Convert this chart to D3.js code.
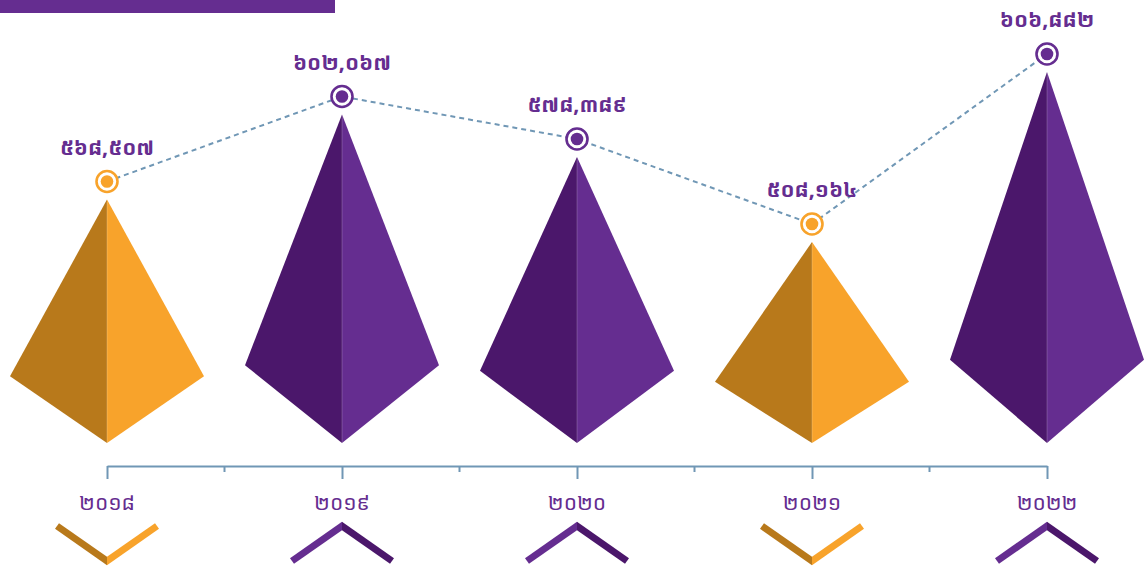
<!DOCTYPE html>
<html>
<head>
<meta charset="utf-8">
<script src="https://cdn.jsdelivr.net/npm/d3@7"></script>
<style>
  html, body { margin: 0; padding: 0; background: #ffffff; }
  svg { display: block; }
</style>
</head>
<body>
<svg id="chart" width="1147" height="567"></svg>
<script>
// ---- data ----
const years = ["2018", "2019", "2020", "2021", "2022"];
const yearLabels = ["២០១៨", "២០១៩", "២០២០", "២០២១", "២០២២"];
const values = [568507, 602067, 578389, 508164, 606882];
const valueLabels = ["៥៦៨,៥០៧", "៦០២,០៦៧", "៥៧៨,៣៨៩", "៥០៨,១៦៤", "៦០៦,៨៨២"];
const groups = ["gold", "purple", "purple", "gold", "purple"];

// ---- styles ----
const palette = {
  gold:   { dark: "#B8791B", light: "#F8A32B", marker: "#F8A32B" },
  purple: { dark: "#4B176B", light: "#652D90", marker: "#652D90" }
};
const textColor = "#652D90";
const axisColor = "#7097B5";
const fontFam = "'Noto Sans Khmer', 'Khmer OS', 'Khmer OS System', 'Noto Serif Khmer', 'Noto Sans', 'DejaVu Sans', sans-serif";

const svg = d3.select("#chart");

// top banner (cut title bar)
svg.append("rect").attr("x", 0).attr("y", 0).attr("width", 335).attr("height", 13).attr("fill", "#652D90");

const data = years.map((y, i) => ({
  year: y, yearLabel: yearLabels[i], value: values[i], label: valueLabels[i], group: groups[i]
}));

// scales
const x = d3.scalePoint().domain(years).range([107, 1047]);
const sorted = values.slice().sort((a, b) => a - b);
const y = d3.scalePoint().domain(sorted).range([224, 54]);
const baseY = 443;
const halfW = 97;

// pyramids
const pyr = svg.append("g");
data.forEach(d => {
  const cx = x(d.year);
  const apex = y(d.value) + 18;
  const h = baseY - apex;
  const shoulder = baseY - (35 + 0.13 * h);
  const c = palette[d.group];
  pyr.append("path")
    .attr("d", d3.line()([[cx, apex], [cx - halfW, shoulder], [cx, baseY]]) + "Z")
    .attr("fill", c.dark);
  pyr.append("path")
    .attr("d", d3.line()([[cx, apex], [cx + halfW, shoulder], [cx, baseY]]) + "Z")
    .attr("fill", c.light);
  pyr.append("line")
    .attr("x1", cx).attr("x2", cx).attr("y1", apex + 2).attr("y2", baseY)
    .attr("stroke", "#ffffff").attr("stroke-opacity", 0.25).attr("stroke-width", 0.8);
});

// dashed connecting line
svg.append("path")
  .datum(data)
  .attr("d", d3.line().x(d => x(d.year)).y(d => y(d.value)))
  .attr("fill", "none")
  .attr("stroke", axisColor)
  .attr("stroke-width", 2)
  .attr("stroke-dasharray", "5,4");

// markers
const mk = svg.append("g");
data.forEach(d => {
  const cx = x(d.year), cy = y(d.value);
  const c = palette[d.group];
  mk.append("circle").attr("cx", cx).attr("cy", cy).attr("r", 10.5)
    .attr("fill", "#ffffff").attr("stroke", c.marker).attr("stroke-width", 2.6);
  mk.append("circle").attr("cx", cx).attr("cy", cy).attr("r", 6.3).attr("fill", c.marker);
});

// value labels
svg.append("g").selectAll("text").data(data).join("text")
  .attr("x", d => x(d.year))
  .attr("y", d => y(d.value) - 35)
  .attr("text-anchor", "middle")
  .attr("dominant-baseline", "central")
  .attr("font-family", fontFam)
  .attr("font-weight", "bold")
  .attr("font-size", 21)
  .attr("fill", textColor)
  .text(d => d.label);

// axis
const axisY = 466;
const axisG = svg.append("g").attr("transform", `translate(0,${axisY})`)
  .call(d3.axisBottom(x).tickSize(13).tickSizeOuter(0).tickFormat(""));
axisG.select(".domain").attr("stroke", axisColor).attr("stroke-width", 2);
axisG.selectAll(".tick line").attr("stroke", axisColor).attr("stroke-width", 2);
// minor ticks at midpoints
const mids = d3.pairs(years).map(([a, b]) => (x(a) + x(b)) / 2);
axisG.selectAll(".minor").data(mids).join("line")
  .attr("class", "minor")
  .attr("x1", d => d).attr("x2", d => d).attr("y1", 0).attr("y2", 6)
  .attr("stroke", axisColor).attr("stroke-width", 2);

// year labels
svg.append("g").selectAll("text").data(data).join("text")
  .attr("x", d => x(d.year))
  .attr("y", 502)
  .attr("text-anchor", "middle")
  .attr("dominant-baseline", "central")
  .attr("font-family", fontFam)
  .attr("font-size", 21)
  .attr("fill", textColor)
  .text(d => d.yearLabel);

// chevrons
const chTop = 526, chBot = 561, chHalf = 50, thick = 7;
const chev = svg.append("g");
function armPoly(ax, ay, ex, ey) {
  const dx = ex - ax, dy = ey - ay, len = Math.hypot(dx, dy);
  let nx = -dy / len, ny = dx / len;
  if (ny < 0) { nx = -nx; ny = -ny; }       // normal pointing downward
  const t = thick / 2;
  const mY = t * len / Math.abs(dx);        // mitre on the vertical centre line
  return [[ax, ay - mY], [ex - nx * t, ey - ny * t], [ex + nx * t, ey + ny * t], [ax, ay + mY]];
}
data.forEach(d => {
  const cx = x(d.year);
  const c = palette[d.group];
  const down = d.group === "gold";
  const ay = down ? chBot : chTop;
  const ey = down ? chTop : chBot;
  const leftColor = down ? c.dark : c.light;
  const rightColor = down ? c.light : c.dark;
  [[cx - chHalf, leftColor], [cx + chHalf, rightColor]].forEach(([ex, col]) => {
    chev.append("path")
      .attr("d", d3.line()(armPoly(cx, ay, ex, ey)) + "Z")
      .attr("fill", col);
  });
});
</script>
</body>
</html>
